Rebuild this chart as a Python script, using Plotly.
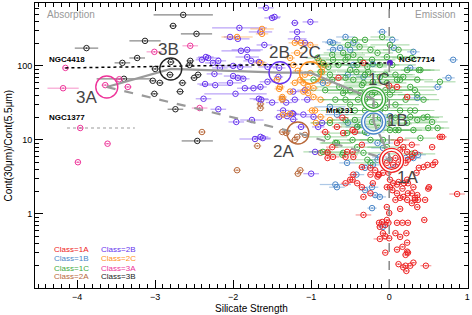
import math
import plotly.graph_objects as go

# ---------------- data ----------------
x_1A = [0.87,0.5,0.46,0.36,0.36,0.29,0.33,0.24,0.18,0.14,
        0.10,0.08,0.23,0.04,0.01,0.10,0.17,0.24,0.31,-0.03,
        0.0,0.14,-0.33,-0.09,-0.03,-0.01,-0.05,-0.13,0.10,0.17,
        0.24,0.45,-0.12,-0.05,0.0,-0.08,0.08,0.14,0.22,0.23,
        -0.05,0.10,0.17,0.23,0.21,0.24,0.12,0.21,0.18,0.22,
        0.31,0.27,0.47,-0.56,-0.33,-0.35,-0.24,-0.21,-0.15,-0.13,
        -0.08,-0.47,0.56,0.49,0.44,0.29,0.33,0.37,0.19,0.23,
        -0.12,-0.44,-0.35,-0.47,-0.46,-0.56,-0.72,-0.79,-0.35,-0.24,
        -0.18,-0.24,-0.14,-0.5,-0.46,-0.41,0.14,0.18,0.23,0.29,
        0.24,0.21,0.65,0.55,0.59,0.51,0.38,0.35,0.10,0.05,
        0.12,-0.03,0.01,-0.01,0.01,0.08,-0.03,0.05,0.12,-0.33,
        -0.65,0.10,0.23,-0.60,-0.67,-0.82,-0.59,-0.47,-0.73,-0.79,
        -0.54,0.14,0.29,0.33,0.68,0.0]
y_1A = [1.86,2.2,1.55,1.8,1.24,1.4,1.55,1.9,1.7,1.65,
        1.9,1.55,1.55,2.1,2.3,2.5,2.2,2.6,2.3,1.24,
        1.03,1.17,0.97,0.78,0.83,0.76,0.71,0.76,0.76,0.76,
        0.76,0.83,0.46,0.50,0.47,0.55,0.55,0.49,0.55,0.41,
        0.30,0.33,0.36,0.31,0.28,0.30,0.21,0.20,0.19,0.17,
        0.22,0.20,0.20,2.6,1.7,2.3,1.9,2.6,3.2,3.4,
        3.6,2.9,4.6,4.6,4.3,1.9,1.65,1.55,2.6,2.9,
        0.67,12.8,8.6,6.9,5.9,5.9,5.9,5.7,4.3,4.2,
        3.9,3.4,3.4,2.9,3.4,2.6,7.3,8.0,6.9,5.9,
        5.4,4.9,11,8.0,5.0,2.3,4.2,3.6,9.1,2.6,
        2.7,2.3,2.9,3.6,5.4,5.7,4.9,4.6,5.0,110,
        69,52,38,20,15,12.8,12.4,13.6,8.0,6.7,
        6.9,10,8.6,6.7,11,54]
ex_1A = [0.10,0.04,0.04,0.04,0.04,0.04,0.04,0.04,0.04,0.04,
         0.04,0.04,0.04,0.04,0.04,0.04,0.04,0.04,0.04,0.04,
         0.04,0.04,0.10,0.04,0.04,0.04,0.04,0.04,0.04,0.04,
         0.04,0.04,0.08,0.04,0.04,0.04,0.04,0.04,0.04,0.04,
         0.04,0.04,0.04,0.04,0.04,0.04,0.04,0.04,0.04,0.04,
         0.04,0.04,0.07,0.06,0.04,0.04,0.04,0.04,0.04,0.04,
         0.04,0.04,0.04,0.04,0.04,0.04,0.04,0.04,0.04,0.04,
         0.04,0.06,0.04,0.04,0.04,0.04,0.08,0.04,0.04,0.04,
         0.04,0.04,0.04,0.04,0.04,0.04,0.04,0.04,0.04,0.04,
         0.04,0.04,0.05,0.04,0.04,0.04,0.04,0.04,0.04,0.04,
         0.04,0.04,0.04,0.04,0.04,0.04,0.04,0.04,0.04,0.06,
         0.06,0.06,0.04,0.08,0.06,0.06,0.04,0.04,0.08,0.04,
         0.04,0.12,0.10,0.10,0.06,0.06]

x_1B = [-0.09,0.04,-0.56,-0.72,-0.63,0.31,0.06,0.82,0.62,0.76,
        0.36,-0.21,0.27,-0.85,-0.53,-0.46,-0.33,-0.76,-0.72,-0.5,
        -0.46,0.01,-0.08,-0.76,-0.67,-0.53,-0.41,-0.28,-0.15,-0.08,
        -0.69,-0.42,-0.31,-0.22,-0.54,-0.31,-0.21,-0.15,-0.12,0.01,
        0.08,-0.08,-0.22,-0.18,-0.12,-0.67,0.21,0.31,0.37]
y_1B = [288,225,246,205,175,155,175,121,52,69,
        37,106,94,59,76,103,71,211,165,165,
        205,21,18.6,28,22,17,15,12.4,9.1,7.8,
        2.5,3.4,2.1,1.2,4.9,4.2,4.6,5.4,5.9,3.9,
        4.3,0.67,2.3,1.8,1.7,2.3,5.7,5.7,6.3]
ex_1B = [0.06,0.08,0.12,0.10,0.10,0.08,0.06,0.06,0.06,0.08,
         0.10,0.10,0.08,0.12,0.15,0.10,0.10,0.10,0.08,0.10,
         0.08,0.15,0.15,0.20,0.15,0.12,0.15,0.15,0.20,0.15,
         0.20,0.10,0.08,0.06,0.10,0.08,0.15,0.12,0.10,0.12,
         0.10,0.05,0.08,0.08,0.08,0.10,0.10,0.10,0.10]

x_1C = [-0.44,-0.38,-0.59,-0.53,-0.46,-0.24,-0.15,-0.03,0.12,0.14,
        0.23,0.40,0.18,0.10,-0.72,-0.78,-0.65,-0.41,-0.28,0.36,
        0.33,-0.46,-0.33,-0.21,-0.12,-0.03,-0.5,-0.37,-0.92,-0.73,
        -0.85,-0.64,-0.56,-0.59,-0.09,0.29,0.38,0.65,0.27,0.36,
        0.44,0.33,0.27,0.49,0.55,0.62,0.50,-0.54,-0.76,-0.67,
        -0.08,-0.03,0.36,0.44,0.23,0.31,0.40,0.12,-0.79,-0.69,
        -0.85,-0.41,-0.33,-0.60,-0.31,-0.18,-0.05,-0.44,-0.27,0.01,
        0.08,-0.37,-0.14,0.01,-0.5,-0.63,-0.56,0.08,0.14,-0.24,
        -0.47,0.04,-0.59,-0.28,-0.24,0.29,-0.18,-0.05,-0.35,-0.27,
        -0.42,-0.56,-0.12,-0.01,-0.31,-0.41,
        -0.56,-0.5,-0.37,-0.22,-0.12,0.04,0.08,-0.05,-0.22,-0.31,
        -0.12,-0.40,-0.56,-0.69,-0.73,-0.82,-0.44,-0.22,0.08,0.21,
        0.27,0.14,-0.05,-0.31,-0.53,-0.31,0.01,-0.76,-0.88,-0.97]
y_1C = [225,181,150,132,141,165,150,132,165,132,
        88,88,71,65,121,97,103,103,97,65,
        47,65,59,61,71,59,47,43,128,141,
        110,52,69,43,246,128,88,61,52,41,
        35,25,20.5,20.5,17.5,14.5,14.5,12.4,17,9.1,
        10,8.0,18.6,20,17,13.6,10.6,13.6,11,9.1,
        6.9,8.0,6.7,6.3,35,30,27,25,22,41,
        30,16,14.5,13.6,30,25,18.6,20,25,10,
        10,47,6.7,5.4,4.9,6.5,44,35,55,83,
        83,35,20,16.5,12.8,15,
        121,88,121,121,103,103,76,47,41,25,
        25,35,47,35,65,47,18.6,17.5,13.6,35,
        25,65,76,76,192,225,192,76,83,65]
ex_1C = [0.15,0.20,0.25,0.20,0.15,0.25,0.20,0.30,0.20,0.25,
         0.30,0.25,0.20,0.30,0.20,0.15,0.25,0.30,0.25,0.20,
         0.25,0.30,0.25,0.35,0.30,0.25,0.30,0.25,0.15,0.20,
         0.20,0.30,0.25,0.20,0.15,0.25,0.20,0.20,0.30,0.25,
         0.20,0.25,0.30,0.20,0.20,0.15,0.20,0.30,0.25,0.20,
         0.30,0.25,0.25,0.20,0.30,0.25,0.20,0.30,0.25,0.20,
         0.25,0.30,0.25,0.20,0.30,0.35,0.30,0.25,0.30,0.35,
         0.30,0.25,0.30,0.25,0.30,0.25,0.20,0.30,0.25,0.30,
         0.25,0.30,0.20,0.25,0.20,0.30,0.35,0.30,0.25,0.30,
         0.25,0.30,0.35,0.30,0.25,0.30,
         0.25,0.30,0.35,0.30,0.25,0.30,0.25,0.35,0.30,0.25,
         0.30,0.25,0.30,0.20,0.25,0.20,0.30,0.35,0.25,0.30,
         0.25,0.30,0.35,0.30,0.25,0.30,0.25,0.20,0.20,0.15]

x_2A = [-2.40,-1.95,-1.14,-1.17,-1.69,-1.65,-1.65,-1.32,-1.08,-1.21,-1.37,-1.18,-1.37,-0.79,-0.88]
y_2A = [12.8,3.9,3.9,3.5,8.3,30.6,27,12.4,11.7,10,12.8,11,36,6.9,6.7]
ex_2A = [0.05,0.05,0.05,0.05,0.05,0.05,0.05,0.05,0.05,0.05,0.05,0.05,0.05,0.05,0.05]

x_2B = [-1.58,-1.47,-1.21,-1.01,-1.92,-1.18,-1.65,-1.94,-1.18,-1.08,
        -1.60,-1.90,-1.82,-1.77,-2.35,-2.40,-2.26,-1.67,-1.56,-1.91,
        -2.17,-1.41,-2.24,-2.0,-1.94,-1.87,-2.04,-1.42,-2.23,-1.85,
        -1.74,-1.65,-1.56,-1.23,-1.08,-2.38,-1.67,-2.32,-2.19,-2.0,
        -2.36,-2.19,-1.97,-1.96,-1.76,-1.72,-1.62,-1.64,-1.5,-1.41,
        -1.36,-1.31,-1.23,-1.32,-1.23,-1.10,-1.13,-1.05,-0.97,-0.86,
        -0.95,-1.0,-1.5,-2.04,-1.82,-1.21,-1.24,-1.65,-0.91]
y_2B = [608,459,381,393,326,288,288,232,232,205,
        192,160,132,117,132,121,110,113,97,97,
        94,94,78,73,69,67,59,71,55,50,
        50,52,61,45,47,36,36,128,117,100,
        57,26,42,17.5,18.6,10.3,10.6,35,32,20.5,
        25,21,19,32,22.5,22,15,35,20.5,17,
        6.9,3.5,445,246,165,35,23,11,15]
ex_2B = [0.10,0.08,0.05,0.10,0.35,0.10,0.15,0.15,0.12,0.10,
         0.10,0.25,0.15,0.10,0.10,0.08,0.10,0.08,0.12,0.15,
         0.10,0.08,0.10,0.12,0.10,0.08,0.15,0.06,0.20,0.10,
         0.10,0.08,0.10,0.08,0.10,0.10,0.12,0.15,0.10,0.12,
         0.10,0.10,0.40,0.10,0.15,0.20,0.10,0.10,0.08,0.06,
         0.08,0.06,0.06,0.08,0.08,0.10,0.06,0.08,0.10,0.08,
         0.08,0.10,0.10,0.08,0.20,0.06,0.06,0.10,0.08]

x_2C = [-1.63,-1.63,-1.95,-1.21,-1.01,-1.18,-1.27,-1.65,-1.17,-1.14,
        -1.21,-1.10,-1.04,-0.97,-0.90,-0.83,-0.86,-0.88,-0.79,-1.41,
        -1.27,-1.37,-0.97,-1.04,-1.36,-1.27,-0.94,-0.95,-1.13,-1.23,
        -0.85,-1.44,-1.40,-1.37,-0.88,-0.99,-0.88,-0.76,-1.08,-1.01,
        -1.10]
y_2C = [316,271,246,205,192,150,128,110,86,65,
        59,59,52,50,117,103,83,65,59,49,
        45,38,38,43,22,22.5,17,25,205,103,
        97,65,52,35,35,25,20.5,18.6,76,80,
        45]
ex_2C = [0.15,0.08,0.20,0.08,0.10,0.08,0.06,0.08,0.06,0.06,
         0.06,0.06,0.06,0.06,0.08,0.08,0.06,0.06,0.06,0.06,
         0.06,0.06,0.06,0.06,0.06,0.06,0.06,0.06,0.08,0.06,
         0.06,0.06,0.06,0.06,0.06,0.06,0.06,0.06,0.06,0.06,
         0.06]

x_3A = [-4.15,-4.18,-3.64,-3.46,-3.35,-3.01,-2.55,-2.43,-3.96,-3.61,-3.99]
y_3A = [94,50,55,66,52,155,187,27,14.5,8.9,5.0]
ex_3A = [0.03,0.20,0.05,0.05,0.05,0.10,0.10,0.10,0.04,0.04,0.04]

x_3B = [-2.64,-2.77,-2.47,-3.13,-3.88,-3.23,-3.42,-3.0,-2.8,-2.81,-3.4,
        -3.03,-2.94,-2.65,-3.01,-2.68,-2.74,-2.55,-2.56,-2.5,-2.45,-2.46]
y_3B = [489,347,271,218,174,128,110,91,113,76,67,63,59,59,42,45,26,117,103,69,76,9.7]
ex_3B = [0.38,0.05,0.20,0.20,0.15,0.10,0.10,0.05,0.05,0.05,0.35,
         0.05,0.05,0.05,0.05,0.05,0.10,0.05,0.05,0.05,0.05,0.20]

classes = ["1A", "1B", "1C", "2A", "2B", "2C", "3A", "3B"]
colors = {"1A": "#ee2222", "1B": "#4a86c8", "1C": "#3faa3f", "2A": "#b8683a",
          "2B": "#6633ee", "2C": "#ff9020", "3A": "#ee3399", "3B": "#222222"}
rgba = {"1A": "rgba(238,34,34,0.45)", "1B": "rgba(74,134,200,0.45)", "1C": "rgba(63,170,63,0.40)",
        "2A": "rgba(184,104,58,0.45)", "2B": "rgba(102,51,238,0.45)", "2C": "rgba(255,144,32,0.45)",
        "3A": "rgba(238,51,153,0.45)", "3B": "rgba(34,34,34,0.55)"}
pts = {"1A": (x_1A, y_1A, ex_1A), "1B": (x_1B, y_1B, ex_1B), "1C": (x_1C, y_1C, ex_1C),
       "2A": (x_2A, y_2A, ex_2A), "2B": (x_2B, y_2B, ex_2B), "2C": (x_2C, y_2C, ex_2C),
       "3A": (x_3A, y_3A, ex_3A), "3B": (x_3B, y_3B, ex_3B)}

# class centroids
cen_x = {"1A": 0.03, "1B": -0.2, "1C": -0.2, "2A": -1.17, "2B": -1.40, "2C": -1.01, "3A": -3.62, "3B": -2.8}
cen_y = {"1A": 5.3, "1B": 17.5, "1C": 35.5, "2A": 12.4, "2B": 81, "2C": 81, "3A": 52, "3B": 91}
lab_x = {"1A": 0.23, "1B": 0.10, "1C": -0.13, "2A": -1.35, "2B": -1.40, "2C": -1.01, "3A": -3.88, "3B": -2.83}
lab_y = {"1A": 3.1, "1B": 18.6, "1C": 65, "2A": 6.9, "2B": 150, "2C": 150, "3A": 38, "3B": 165}
solid_path = ["3A", "3B", "2B", "2C", "1C", "1B", "1A"]
dash_path = ["3A", "2A", "1A"]

ngc4418_line_x = [-4.15, 0.01]
ngc4418_line_y = [94, 110]
ngc1377_line_x = [-4.13, -3.26]
ngc1377_line_y = [14.5, 14.5]
ngc7714_x = [0.01]
ngc7714_y = [110]

FONT = "Liberation Sans"
L = math.log10
fig = go.Figure()

order = ["3B", "3A", "2A", "2B", "2C", "1B", "1C", "1A"]
for c in order:
    xs, ys, ex = pts[c]
    fig.add_trace(go.Scatter(
        x=xs, y=ys, mode="markers",
        marker=dict(symbol="circle-open-dot", size=5.5, color=colors[c], line=dict(width=1, color=colors[c])),
        error_x=dict(type="data", array=ex, color=rgba[c], thickness=1.2, width=0),
        showlegend=False, hoverinfo="skip"))

# vertical dashed line at 0
fig.add_shape(type="line", x0=0, x1=0, y0=0, y1=1, xref="x", yref="paper",
              line=dict(color="#888888", width=1.5, dash="dash"))

# reference galaxies
fig.add_trace(go.Scatter(x=ngc4418_line_x, y=ngc4418_line_y, mode="lines",
                         line=dict(color="black", width=1.5, dash="dot"), showlegend=False, hoverinfo="skip"))
fig.add_trace(go.Scatter(x=ngc1377_line_x, y=ngc1377_line_y, mode="lines",
                         line=dict(color="#999999", width=1.2, dash="dot"), showlegend=False, hoverinfo="skip"))
fig.add_trace(go.Scatter(x=ngc7714_x, y=ngc7714_y, mode="markers",
                         marker=dict(symbol="circle", size=6, color="#5522cc"), showlegend=False, hoverinfo="skip"))

# class sequences
fig.add_trace(go.Scatter(x=[cen_x[c] for c in solid_path], y=[cen_y[c] for c in solid_path], mode="lines",
                         line=dict(color="#9a9a9a", width=2.2), showlegend=False, hoverinfo="skip"))
fig.add_trace(go.Scatter(x=[cen_x[c] for c in dash_path], y=[cen_y[c] for c in dash_path], mode="lines",
                         line=dict(color="#9a9a9a", width=2.2, dash="dash"), showlegend=False, hoverinfo="skip"))

for c in classes:
    if c in ("1A", "1B", "1C"):
        fig.add_trace(go.Scatter(x=[cen_x[c]], y=[cen_y[c]], mode="markers",
                                 marker=dict(symbol="circle-open", size=21, color="white", line=dict(width=5, color="white")),
                                 showlegend=False, hoverinfo="skip"))
        fig.add_trace(go.Scatter(x=[cen_x[c]], y=[cen_y[c]], mode="markers",
                                 marker=dict(symbol="circle-open", size=24, color=colors[c], line=dict(width=1.4, color=colors[c])),
                                 showlegend=False, hoverinfo="skip"))
        fig.add_trace(go.Scatter(x=[cen_x[c]], y=[cen_y[c]], mode="markers",
                                 marker=dict(symbol="circle-open", size=18, color=colors[c], line=dict(width=1.4, color=colors[c])),
                                 showlegend=False, hoverinfo="skip"))
    else:
        fig.add_trace(go.Scatter(x=[cen_x[c]], y=[cen_y[c]], mode="markers",
                                 marker=dict(symbol="circle-open", size=22, color=colors[c], line=dict(width=1.4, color=colors[c])),
                                 showlegend=False, hoverinfo="skip"))
    fig.add_annotation(x=lab_x[c], y=L(lab_y[c]), text=c, showarrow=False,
                       font=dict(family=FONT, size=17, color="#444444"))

# galaxy names
for name, gx, gy in [("NGC4418", -4.38, 121), ("NGC1377", -4.38, 19.8), ("NGC7714", 0.10, 121), ("Mrk231", -0.84, 25)]:
    fig.add_annotation(x=gx, y=L(gy), text="<b>%s</b>" % name, showarrow=False, xanchor="left",
                       font=dict(family=FONT, size=8, color="black"))

fig.add_annotation(x=-4.41, y=L(489), text="Absorption", showarrow=False, xanchor="left",
                   font=dict(family=FONT, size=10, color="#999999"))
fig.add_annotation(x=0.88, y=L(489), text="Emission", showarrow=False, xanchor="right",
                   font=dict(family=FONT, size=10, color="#999999"))

# class key
key_x = [-4.32, -4.32, -4.32, -4.32, -3.72, -3.72, -3.72, -3.72]
key_y = [0.336, 0.254, 0.186, 0.141, 0.336, 0.254, 0.186, 0.141]
for c, kx, ky in zip(classes, key_x, key_y):
    fig.add_annotation(x=kx, y=L(ky), text="Class=" + c, showarrow=False, xanchor="left",
                       font=dict(family=FONT, size=8, color=colors[c]))

# axis titles
fig.add_annotation(x=0.5, y=0, xref="paper", yref="paper", yanchor="top", yshift=-13,
                   text="Silicate Strength", showarrow=False, font=dict(family=FONT, size=10, color="black"))
fig.add_annotation(x=0, y=0.5, xref="paper", yref="paper", xanchor="center", xshift=-27,
                   text="Cont(30μm)/Cont(5.5μm)", textangle=-90, showarrow=False,
                   font=dict(family=FONT, size=10, color="black"))

axis_common = dict(showline=True, linecolor="black", linewidth=1, mirror="ticks", ticks="inside",
                   ticklen=8, tickcolor="black", showgrid=False, zeroline=False,
                   tickfont=dict(family=FONT, size=9, color="black"))
fig.update_xaxes(range=[-4.54, 1.01], dtick=1, tick0=0,
                 minor=dict(dtick=0.1, ticks="inside", ticklen=4, tickcolor="black", showgrid=False),
                 **axis_common)
fig.update_yaxes(type="log", range=[-1.0, 2.85], tickvals=[1, 10, 100], ticktext=["1", "10", "100"],
                 minor=dict(dtick="D1", ticks="inside", ticklen=4, tickcolor="black", showgrid=False),
                 **axis_common)

fig.update_layout(width=472, height=315, margin=dict(l=35, r=4, t=3, b=27),
                  paper_bgcolor="white", plot_bgcolor="white", showlegend=False,
                  font=dict(family=FONT))

fig.write_html("out.html", config={"displayModeBar": False},
               post_script="document.body.style.margin='0';")
